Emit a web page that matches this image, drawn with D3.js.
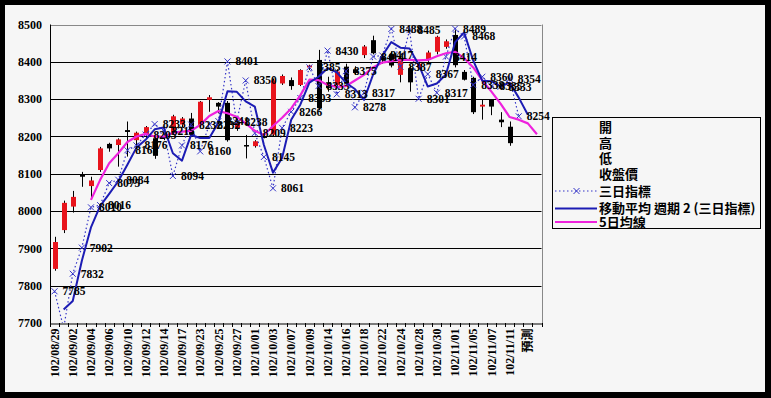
<!DOCTYPE html>
<html>
<head>
<meta charset="utf-8">
<script src="https://cdn.jsdelivr.net/npm/d3@7"></script>
<style>
  body { margin: 0; background: #000; }
  svg { display: block; }
</style>
</head>
<body>
<div id="vis"></div>
<script>
// categories (trading days, ROC calendar) + forecast slot
const dates = ['102/08/29','102/08/30','102/09/02','102/09/03','102/09/04','102/09/05','102/09/06','102/09/09',
  '102/09/10','102/09/11','102/09/12','102/09/13','102/09/14','102/09/16','102/09/17','102/09/18','102/09/23',
  '102/09/24','102/09/25','102/09/26','102/09/27','102/09/30','102/10/01','102/10/02','102/10/03','102/10/04',
  '102/10/07','102/10/08','102/10/09','102/10/11','102/10/14','102/10/15','102/10/16','102/10/17','102/10/18',
  '102/10/21','102/10/22','102/10/23','102/10/24','102/10/25','102/10/28','102/10/29','102/10/30','102/10/31',
  '102/11/01','102/11/04','102/11/05','102/11/06','102/11/07','102/11/08','102/11/11','102/11/12','預測',' '];

// 開 高 低 收盤價
const open  = [7845,7949,8012,8098,8067,8110,8180,8177,8217,8190,8205,8195,8200,8210,8232,8248,8230,8298,8290,8290,
  8223,8177,8174,8200,8205,8342,8351,8338,8385,8405,8345,8338,8387,8380,8418,8458,8415,8420,8365,8383,
  8385,8405,8427,8440,8472,8373,8357,8280,8298,8245,8226];
const high  = [7931,8028,8054,8105,8092,8172,8183,8195,8240,8213,8228,8200,8210,8258,8252,8263,8295,8311,8292,8295,
  8249,8204,8190,8205,8355,8366,8358,8380,8392,8432,8360,8380,8395,8388,8445,8470,8420,8428,8415,8390,
  8400,8430,8470,8460,8485,8378,8360,8300,8300,8265,8240];
const low   = [7840,7941,7996,8065,8035,8105,8159,8119,8146,8172,8195,8140,8190,8205,8225,8200,8226,8266,8262,8186,
  8215,8141,8170,8195,8200,8338,8325,8335,8378,8270,8320,8335,8338,8365,8410,8420,8395,8385,8345,8320,
  8380,8400,8420,8435,8385,8350,8260,8245,8257,8225,8175];
const close = [7917,8022,8038,8092,8082,8168,8168,8192,8212,8210,8225,8148,8196,8254,8248,8205,8293,8305,8280,8190,
  8236,8173,8187,8198,8350,8362,8335,8378,8390,8276,8330,8374,8342,8370,8441,8423,8405,8390,8410,8345,
  8395,8425,8467,8455,8391,8352,8265,8285,8280,8238,8182];

// 三日指標
const threeDay = [7785,7686,7832,7902,8010,8016,8075,8084,8163,8176,8205,8233,8215,8094,8176,8232,8160,8232,8241,8401,
  8238,8350,8209,8145,8061,8223,8266,8303,8385,8335,8430,8313,8375,8278,8317,8414,8417,8488,8387,8485,
  8301,8367,8317,8414,8489,8468,8338,8360,8335,8333,8354,8254];

// 移動平均 週期 2 (三日指標)
const movAvg2 = [null,7736,7759,7867,7956,8013,8046,8080,8124,8170,8191,8219,8224,8155,8135,8204,8196,8196,8237,8321,
  8320,8294,8280,8177,8103,8142,8245,8285,8344,8360,8383,8372,8344,8327,8298,8366,8416,8453,8438,8436,
  8393,8334,8342,8366,8452,8479,8403,8349,8348,8334,8344,8304,8258];

// 5日均線
const ma5 = [null,null,null,null,8030,8083,8128,8155,8185,8200,8207,8200,8199,8210,8213,8215,8231,8255,8268,8262,
  8253,8235,8215,8204,8228,8250,8275,8310,8352,8351,8338,8333,8335,8350,8365,8385,8398,8402,8405,8405,
  8404,8405,8415,8423,8427,8410,8385,8350,8320,8288,8252,8245,8235,8206];

const yTicks = [7700,7800,7900,8000,8100,8200,8300,8400,8500];
const legendItems = ['開','高','低','收盤價','三日指標','移動平均  週期 2 (三日指標)','5日均線'];

// layout
const W = 771, H = 398;
const plot = { left: 50, right: 541.5, top: 24.5, bottom: 323 };
const serif = '"Liberation Serif", "DejaVu Serif", serif';
const cjk = '"Noto Sans CJK TC", "Noto Sans CJK SC", sans-serif';

const svg = d3.select('#vis').append('svg')
    .attr('width', W)
    .attr('height', H);

svg.append('rect').attr('width', W).attr('height', H).attr('fill', '#000');
svg.append('rect').attr('x', 5).attr('y', 5).attr('width', 760).attr('height', 387).attr('fill', '#f6f6f6');

// scales
const x = d3.scaleBand()
    .domain(d3.range(dates.length))
    .range([plot.left, plot.right]);
const cx = i => x(i) + x.bandwidth() / 2;

const y = d3.scaleLinear()
    .domain([7700, 8500])
    .range([plot.bottom, plot.top]);

// grid
svg.append('g')
    .selectAll('line')
    .data(yTicks.filter(v => v > 7700))
    .join('line')
    .attr('x1', plot.left).attr('x2', plot.right)
    .attr('y1', d => Math.round(y(d)) + 0.5).attr('y2', d => Math.round(y(d)) + 0.5)
    .attr('stroke', d => d === 8500 ? '#888' : '#000')
    .attr('stroke-width', 1);

svg.append('line')
    .attr('x1', Math.round(plot.right) + 0.5).attr('x2', Math.round(plot.right) + 0.5)
    .attr('y1', plot.top).attr('y2', plot.bottom)
    .attr('stroke', '#888');

// y axis
const yAxis = d3.axisLeft(y).tickValues(yTicks).tickSize(0).tickPadding(8).tickFormat(d3.format('d'));
const gy = svg.append('g')
    .attr('transform', `translate(${plot.left},0)`)
    .call(yAxis);
gy.select('.domain').remove();
gy.selectAll('text')
    .attr('font-family', serif)
    .attr('font-size', 12)
    .attr('font-weight', 'bold')
    .attr('fill', '#000');
svg.append('line')
    .attr('x1', Math.round(plot.left) + 0.5).attr('x2', Math.round(plot.left) + 0.5)
    .attr('y1', plot.top).attr('y2', plot.bottom)
    .attr('stroke', '#000');

// x axis
const xAxis = d3.axisBottom(x).tickSize(0).tickFormat(d => d % 2 === 0 ? dates[d] : '');
const gx = svg.append('g')
    .attr('transform', `translate(0,${Math.round(plot.bottom) + 0.5})`)
    .call(xAxis);
gx.select('.domain').attr('stroke', '#000');
gx.selectAll('text')
    .attr('transform', 'rotate(-90)')
    .attr('x', -5)
    .attr('y', 0)
    .attr('dy', '0.35em')
    .attr('text-anchor', 'end')
    .attr('font-family', (d) => dates[d] === '預測' ? cjk : serif)
    .attr('font-size', 12)
    .attr('font-weight', 'bold')
    .attr('fill', '#000');

// category boundary ticks
svg.append('g')
    .selectAll('line')
    .data(d3.range(dates.length + 1))
    .join('line')
    .attr('x1', i => Math.round(plot.left + i * x.bandwidth()) + 0.5)
    .attr('x2', i => Math.round(plot.left + i * x.bandwidth()) + 0.5)
    .attr('y1', plot.bottom).attr('y2', plot.bottom + 4)
    .attr('stroke', '#000');

// clip
svg.append('clipPath').attr('id', 'clip')
    .append('rect')
    .attr('x', plot.left).attr('y', plot.top)
    .attr('width', plot.right - plot.left).attr('height', plot.bottom - plot.top);
const gPlot = svg.append('g').attr('clip-path', 'url(#clip)');

// candles
const candles = open.map((o, i) => ({ i, o, h: high[i], l: low[i], c: close[i] }));
const bodyW = 5;
const gCandle = gPlot.append('g');
gCandle.selectAll('.wick')
    .data(candles)
    .join('line')
    .attr('class', 'wick')
    .attr('x1', d => Math.round(cx(d.i)) + 0.5).attr('x2', d => Math.round(cx(d.i)) + 0.5)
    .attr('y1', d => y(d.h)).attr('y2', d => y(d.l))
    .attr('stroke', '#000')
    .attr('stroke-width', 1);
gCandle.selectAll('.body')
    .data(candles)
    .join('rect')
    .attr('class', 'body')
    .attr('x', d => Math.round(cx(d.i)) + 0.5 - bodyW / 2)
    .attr('width', bodyW)
    .attr('y', d => y(Math.max(d.o, d.c)))
    .attr('height', d => Math.max(1.5, Math.abs(y(d.o) - y(d.c))))
    .attr('fill', d => d.c >= d.o ? '#e8141c' : '#000');

// 三日指標 dotted
const line = d3.line()
    .defined(d => d != null)
    .x((d, i) => cx(i))
    .y(d => y(d));

gPlot.append('path')
    .datum(threeDay)
    .attr('fill', 'none')
    .attr('stroke', '#3434c8')
    .attr('stroke-width', 1.2)
    .attr('stroke-dasharray', '1.5,2.5')
    .attr('d', line);

const xMark = 3;
gPlot.append('g')
    .selectAll('path')
    .data(threeDay.map((v, i) => ({ v, i })))
    .join('path')
    .attr('d', d => {
        const px = cx(d.i), py = y(d.v);
        return `M${px - xMark},${py - xMark}L${px + xMark},${py + xMark}M${px - xMark},${py + xMark}L${px + xMark},${py - xMark}`;
    })
    .attr('stroke', '#3434c8')
    .attr('stroke-width', 1)
    .attr('fill', 'none');

// 5日均線
gPlot.append('path')
    .datum(ma5)
    .attr('fill', 'none')
    .attr('stroke', '#ee22dd')
    .attr('stroke-width', 2.2)
    .attr('stroke-linejoin', 'round')
    .attr('d', line);

// 移動平均
gPlot.append('path')
    .datum(movAvg2)
    .attr('fill', 'none')
    .attr('stroke', '#1c1cb4')
    .attr('stroke-width', 2)
    .attr('stroke-linejoin', 'round')
    .attr('d', line);

// data labels
svg.append('g')
    .selectAll('text')
    .data(threeDay.map((v, i) => ({ v, i })).filter(d => d.v >= 7700))
    .join('text')
    .attr('x', d => cx(d.i) + 8)
    .attr('y', d => y(d.v))
    .attr('dy', '0.35em')
    .attr('font-family', serif)
    .attr('font-size', 11.5)
    .attr('font-weight', 'bold')
    .attr('fill', '#000')
    .text(d => d.v);

// legend
const lg = svg.append('g').attr('transform', 'translate(552,117)');
lg.append('rect')
    .attr('x', 0.5).attr('y', 0.5)
    .attr('width', 208).attr('height', 111)
    .attr('fill', '#f6f6f6')
    .attr('stroke', '#000');

const rowY = [10, 26, 41.5, 57, 74, 91.5, 105];
lg.selectAll('text')
    .data(legendItems)
    .join('text')
    .attr('x', 47)
    .attr('y', (d, i) => rowY[i])
    .attr('dy', '0.36em')
    .attr('font-family', cjk)
    .attr('font-size', 13)
    .attr('font-weight', 'bold')
    .attr('fill', '#000')
    .text(d => d);

lg.append('line')
    .attr('x1', 3).attr('x2', 45).attr('y1', rowY[4]).attr('y2', rowY[4])
    .attr('stroke', '#3434c8').attr('stroke-width', 1.2).attr('stroke-dasharray', '1.5,2.5');
lg.append('path')
    .attr('d', `M${24.5 - xMark},${rowY[4] - xMark}L${24.5 + xMark},${rowY[4] + xMark}M${24.5 - xMark},${rowY[4] + xMark}L${24.5 + xMark},${rowY[4] - xMark}`)
    .attr('stroke', '#3434c8');
lg.append('line')
    .attr('x1', 3).attr('x2', 45).attr('y1', rowY[5]).attr('y2', rowY[5])
    .attr('stroke', '#1c1cb4').attr('stroke-width', 2);
lg.append('line')
    .attr('x1', 3).attr('x2', 45).attr('y1', rowY[6]).attr('y2', rowY[6])
    .attr('stroke', '#ee22dd').attr('stroke-width', 2.2);
</script>
</body>
</html>
